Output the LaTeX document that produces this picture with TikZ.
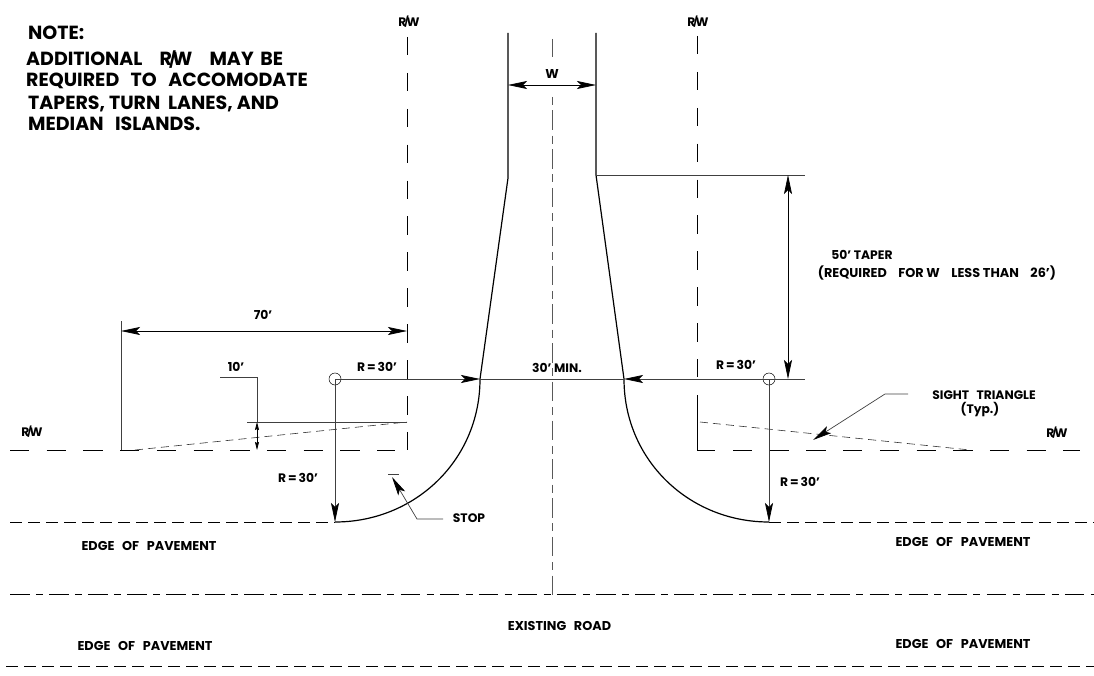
\documentclass[tikz,border=0pt]{standalone}
\usepackage{fontspec}
\setmainfont{Poppins}
\usetikzlibrary{arrows.meta}
\newcommand{\ww}{\hspace*{0.6em}}
\newcommand{\wwb}{\hspace*{0.9em}}
\newcommand{\rww}{R\kern-0.16em\raisebox{0.02em}{\scalebox{0.8}[0.82]{/}}\kern-0.18em W}
\tikzset{
  x=1pt,y=-1pt,
  road/.style={line width=1.2pt,black},
  thin line/.style={line width=0.7pt,black!75},
  rwv/.style={line width=1pt,black,dash pattern=on 18.5pt off 17.4pt},
  rwh/.style={line width=1pt,black,dash pattern=on 19.3pt off 17.4pt},
  edge/.style={line width=1pt,black,dash pattern=on 12pt off 6pt},
  sight/.style={line width=0.6pt,black!80,dash pattern=on 8pt off 5pt},
  centerv/.style={line width=0.8pt,black!65,dash pattern=on 8pt off 5.5pt on 19.5pt off 5.75pt},
  centerh/.style={line width=0.9pt,black,dash pattern=on 19.5pt off 6.3pt on 7pt off 6.27pt},
  dim/.style={line width=0.7pt,black,arrows={Stealth[length=19pt,width=8pt,inset=4pt]-Stealth[length=19pt,width=8pt,inset=4pt]}},
  arr/.style={line width=0.7pt,black!75,-{Stealth[length=19pt,width=8pt,inset=4pt,black]}},
  small arr/.style={line width=0.7pt,black,-{Stealth[length=8pt,width=4pt,inset=1pt]}},
  lab/.style={inner sep=0pt,font=\fontsize{12.3}{13}\selectfont\bfseries},
  labw/.style={inner sep=0pt,font=\fontsize{12.8}{13}\selectfont\bfseries},
  notetxt/.style={inner sep=0pt,anchor=base west,font=\fontsize{19}{20}\selectfont\bfseries}
}
\begin{document}
\begin{tikzpicture}
\useasboundingbox (0,0) rectangle (1094,676);
% note
\node[notetxt] (n0) at (28,40) {NOTE:};
\node[notetxt] (n1) at (26,66) {ADDITIONAL\wwb\rww\wwb MAY\hspace*{0.35em}BE};
\node[notetxt] (n2) at (26,87) {REQUIRED\ww TO\ww ACCOMODATE};
\node[notetxt] (n3) at (28,110) {TAPERS, TURN\hspace*{0.4em}LANES, AND};
\node[notetxt] (n4) at (28,131) {MEDIAN\ww ISLANDS.};
% key points
\coordinate (cl) at (335,379);
\coordinate (cr) at (769,379);
\coordinate (tl) at (480,379);
\coordinate (tr) at (624,379);
\coordinate (bl) at (335,522);
\coordinate (br) at (769,522);
% road
\draw[road] (508,33) -- (508,178) -- (tl) .. controls (480,460) and (415,522) .. (bl);
\draw[road] (596,33) -- (596,175) -- (tr) .. controls (624,460) and (689,522) .. (br);
% R/W
\draw[rwv] (407,37) -- (407,450);
\draw[rwv] (697,36) -- (697,377);
\draw[line width=1pt] (697,395) -- (697,450) -- (715,450);
\draw[rwh] (733,450) -- (1080,450);
\draw[rwh] (10,450) -- (395,450);
% edges
\draw[edge] (10,522) -- (bl);
\draw[edge] (br) -- (1094,522);
\draw[edge] (6,666) -- (1094,666);
% centre
\draw[line width=0.8pt,black!65] (552,39) -- (552,57);
\draw[centerv] (552,97) -- (552,595);
\draw[centerh] (10,594.5) -- (1094,594.5);
% sight
\draw[sight] (135,450) -- (407,422);
\draw[sight] (700,422) -- (970,450);
% circles
\node[draw,circle,minimum size=12pt,inner sep=0pt,line width=0.5pt] (ccl) at (cl) {};
\node[draw,circle,minimum size=12pt,inner sep=0pt,line width=0.5pt] (ccr) at (cr) {};
% dims
\draw[arr] (cl) -- (tl);
\draw[arr] (cr) -- (tr);
\draw[thin line] (tl) -- (tr);
\draw[thin line] (cr) -- (805,379);
\draw[arr] (cl) -- (bl);
\draw[arr] (cr) -- (br);
\draw[thin line] (596,175) -- (805,175);
\draw[dim] (788,175) -- (788,379);
\draw[dim] (508,85) -- (596,85);
\draw[thin line] (121,321) -- (121,450);
\draw[dim] (121,331) -- (407,331);
% 10'
\draw[thin line] (247,422) -- (407,422);
\coordinate (t0) at (257,422);
\coordinate (t1) at (257,450);
\draw[thin line] (220,377) -- (257,377) -- (t0);
\draw[small arr] (257,436) -- (t0);
\draw[small arr] (257,436) -- (t1);
% stop
\draw[thin line] (388,474) -- (399,474);
\draw[arr] (443,519) -- (417,519) -- (392,477);
% sight leader
\draw[arr] (908,394) -- (885,394) -- (813,440);
% labels
\node[lab] (rw1) at (409,22) {\rww};
\node[lab] (rw2) at (698,22) {\rww};
\node[lab] (rw3) at (32,432) {\rww};
\node[lab] (rw4) at (1057,433) {\rww};
\node[labw] (w) at (552,74) {W};
\node[lab] (l70) at (263,315) {70'};
\node[lab] (l10) at (236,367) {10'};
\node[lab] (r1) at (377,367) {R\,=\,30'};
\node[lab] (r2) at (298,478) {R\,=\,30'};
\node[lab] (r3) at (736,365) {R\,=\,30'};
\node[lab] (r4) at (800,482) {R\,=\,30'};
\node[lab] (m) at (557,368) {30' MIN.};
\node[lab] (st) at (469,518) {STOP};
\node[lab] (s1) at (984,395) {SIGHT\ww TRIANGLE};
\node[lab] (s2) at (980,410) {(Typ.)};
\node[lab] (t1l) at (862,255) {50' TAPER};
\node[labw] (t2l) at (937,273) {(REQUIRED\wwb FOR W\wwb LESS THAN\wwb 26')};
\node[labw] (e1) at (149,546) {EDGE\ww OF\ww PAVEMENT};
\node[labw] (e2) at (963,542) {EDGE\ww OF\ww PAVEMENT};
\node[labw] (e3) at (145,646) {EDGE\ww OF\ww PAVEMENT};
\node[labw] (e4) at (963,644) {EDGE\ww OF\ww PAVEMENT};
\node[labw] (ex) at (559.5,626) {EXISTING\ww ROAD};
\end{tikzpicture}
\end{document}
